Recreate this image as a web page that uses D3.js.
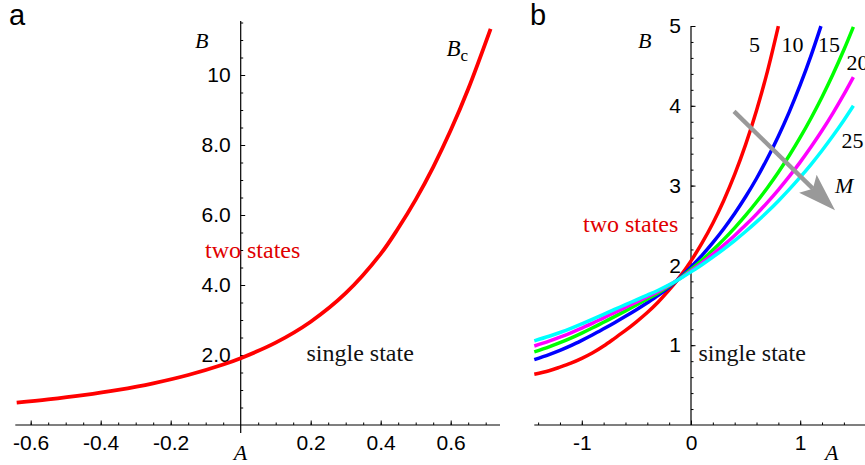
<!DOCTYPE html>
<html>
<head>
<meta charset="utf-8">
<script src="https://cdn.jsdelivr.net/npm/d3@7"></script>
<style>
  html, body { margin: 0; padding: 0; background: #fff; }
  svg { display: block; }
  .tick text { font-family: "Liberation Sans", Arial, sans-serif; font-size: 21px; fill: #000; }
  .tick line { stroke: #000; stroke-width: 1; }
</style>
</head>
<body>
<svg id="chart" width="865" height="465"></svg>
<script>
// ---- Panel a: critical boundary B_c as a function of A ----
const bcA = [-0.64, -0.55, -0.45, -0.35, -0.25, -0.15, -0.05, 0, 0.1, 0.2, 0.3, 0.4, 0.45, 0.5, 0.55, 0.6, 0.65, 0.714];
const bcB = [0.640, 0.730, 0.852, 1.003, 1.192, 1.429, 1.730, 1.910, 2.353, 2.951, 3.765, 4.889, 5.62, 6.44, 7.37, 8.42, 9.60, 11.32];

const xTicksA = [-0.6, -0.4, -0.2, 0.2, 0.4, 0.6];
const xTickLabelsA = ["-0.6", "-0.4", "-0.2", "0.2", "0.4", "0.6"];
const yTicksA = [2, 4, 6, 8, 10];
const yTickLabelsA = ["2.0", "4.0", "6.0", "8.0", "10"];

// ---- Panel b: boundary for several M ----
const mValues = [5, 10, 15, 20, 25];
const m5A  = [-1.435, -1.3, -1.2, -1.1, -1.0, -0.9, -0.8, -0.7, -0.6, -0.5, -0.4, -0.3, -0.2, -0.1, 0, 0.1, 0.2, 0.3, 0.4, 0.5, 0.6, 0.7, 0.8];
const m5B  = [0.637, 0.680, 0.725, 0.775, 0.835, 0.905, 0.990, 1.086, 1.185, 1.293, 1.410, 1.542, 1.692, 1.863, 2.057, 2.278, 2.528, 2.814, 3.140, 3.513, 3.941, 4.432, 4.998];
const m10A = [-1.435, -1.3, -1.2, -1.1, -1.0, -0.9, -0.8, -0.7, -0.6, -0.5, -0.4, -0.3, -0.2, -0.1, 0, 0.1, 0.2, 0.3, 0.4, 0.5, 0.6, 0.7, 0.8, 0.9, 1.0, 1.1, 1.19];
const m10B = [0.820, 0.883, 0.935, 0.994, 1.060, 1.130, 1.205, 1.282, 1.362, 1.445, 1.532, 1.624, 1.728, 1.847, 1.981, 2.126, 2.286, 2.460, 2.651, 2.860, 3.089, 3.342, 3.619, 3.924, 4.261, 4.632, 4.998];
const m15A = [-1.435, -1.3, -1.2, -1.1, -1.0, -0.9, -0.8, -0.7, -0.6, -0.5, -0.4, -0.3, -0.2, -0.1, 0, 0.1, 0.2, 0.3, 0.4, 0.5, 0.6, 0.7, 0.8, 0.9, 1.0, 1.1, 1.2, 1.3, 1.4, 1.487];
const m15B = [0.917, 0.979, 1.031, 1.088, 1.151, 1.218, 1.288, 1.358, 1.430, 1.503, 1.578, 1.655, 1.742, 1.841, 1.949, 2.066, 2.192, 2.326, 2.471, 2.626, 2.794, 2.974, 3.168, 3.377, 3.603, 3.847, 4.110, 4.394, 4.702, 4.990];
const m20A = [-1.435, -1.3, -1.2, -1.1, -1.0, -0.9, -0.8, -0.7, -0.6, -0.5, -0.4, -0.3, -0.2, -0.1, 0, 0.1, 0.2, 0.3, 0.4, 0.5, 0.6, 0.7, 0.8, 0.9, 1.0, 1.1, 1.2, 1.3, 1.4, 1.487];
const m20B = [0.990, 1.050, 1.100, 1.154, 1.215, 1.277, 1.343, 1.408, 1.474, 1.540, 1.607, 1.675, 1.751, 1.837, 1.932, 2.032, 2.140, 2.254, 2.375, 2.505, 2.643, 2.790, 2.947, 3.115, 3.294, 3.486, 3.690, 3.909, 4.143, 4.360];
const m25A = [-1.435, -1.3, -1.2, -1.1, -1.0, -0.9, -0.8, -0.7, -0.6, -0.5, -0.4, -0.3, -0.2, -0.1, 0, 0.1, 0.2, 0.3, 0.4, 0.5, 0.6, 0.7, 0.8, 0.9, 1.0, 1.1, 1.2, 1.3, 1.4, 1.487];
const m25B = [1.055, 1.112, 1.159, 1.210, 1.267, 1.326, 1.387, 1.448, 1.508, 1.569, 1.628, 1.689, 1.757, 1.834, 1.919, 2.009, 2.104, 2.205, 2.311, 2.425, 2.545, 2.672, 2.808, 2.952, 3.105, 3.267, 3.440, 3.624, 3.819, 4.000];
const mColors = ["#ff0000", "#0000ff", "#00ff00", "#ff00ff", "#00ffff"];

const xTicksB = [-1, 0, 1];
const xTickLabelsB = ["-1", "0", "1"];
const yTicksB = [1, 2, 3, 4, 5];
const yTickLabelsB = ["1", "2", "3", "4", "5"];

// Direction of increasing M (arrow start and tip, in A/B units)
const arrowFrom = [0.394, 3.93];
const arrowTo = [1.319, 2.69];

const svg = d3.select("#chart");

// Scales
const xa = d3.scaleLinear().domain([-0.6, 0.6]).range([30.7, 450.7]);
const ya = d3.scaleLinear().domain([0, 10]).range([425, 75]);
const xb = d3.scaleLinear().domain([-1, 1]).range([581.8, 800.2]);
const yb = d3.scaleLinear().domain([0, 5]).range([425, 26]);

function range(a, b, step) {
  const out = [];
  const n = Math.round((b - a) / step);
  for (let i = 0; i <= n; i++) out.push(+(a + i * step).toFixed(4));
  return out;
}

function drawAxes(x, y, opt) {
  const g = svg.append("g");
  const y0 = y(0), x0 = x(0);
  // minor ticks
  g.append("g").attr("transform", `translate(0,${y0})`)
    .call(d3.axisBottom(x).tickValues(opt.xMinor).tickFormat("").tickSizeInner(-2.5).tickSizeOuter(0))
    .call(s => s.select(".domain").remove());
  g.append("g").attr("transform", `translate(${x0},0)`)
    .call(d3.axisLeft(y).tickValues(opt.yMinor).tickFormat("").tickSizeInner(-2.5).tickSizeOuter(0))
    .call(s => s.select(".domain").remove());
  // major ticks with labels
  g.append("g").attr("transform", `translate(0,${y0})`)
    .call(d3.axisBottom(x).tickValues(opt.xTicks)
      .tickFormat((d, i) => opt.xLabels[i]).tickSizeInner(-4.5).tickSizeOuter(0).tickPadding(10))
    .call(s => s.select(".domain").remove());
  g.append("g").attr("transform", `translate(${x0},0)`)
    .call(d3.axisLeft(y).tickValues(opt.yTicks)
      .tickFormat((d, i) => opt.yLabels[i]).tickSizeInner(-4.5).tickSizeOuter(0).tickPadding(10))
    .call(s => s.select(".domain").remove());
  // axis lines
  g.append("line").attr("x1", x(opt.xExt[0])).attr("x2", x(opt.xExt[1]))
    .attr("y1", y0).attr("y2", y0).attr("stroke", "#000").attr("stroke-width", 1.2);
  g.append("line").attr("x1", x0).attr("x2", x0)
    .attr("y1", y(opt.yExt[0])).attr("y2", y(opt.yExt[1])).attr("stroke", "#000").attr("stroke-width", 1.2);
  return g;
}

// ---------- Panel a ----------
drawAxes(xa, ya, {
  xTicks: xTicksA, xLabels: xTickLabelsA,
  yTicks: yTicksA, yLabels: yTickLabelsA,
  xMinor: range(-0.6, 0.7, 0.05).filter(v => Math.abs(v) > 1e-6),
  yMinor: range(0.5, 11.5, 0.5),
  xExt: [-0.644, 0.741], yExt: [-0.23, 11.54]
});

const lineA = d3.line().x(d => xa(d[0])).y(d => ya(d[1])).curve(d3.curveCatmullRom.alpha(0.5));
svg.append("path")
  .datum(bcA.map((a, i) => [a, bcB[i]]))
  .attr("d", lineA)
  .attr("fill", "none").attr("stroke", "#ff0000").attr("stroke-width", 3.8);

// ---------- Panel b ----------
drawAxes(xb, yb, {
  xTicks: xTicksB, xLabels: xTickLabelsB,
  yTicks: yTicksB, yLabels: yTickLabelsB,
  xMinor: range(-1.4, 1.6, 0.2).filter(v => Math.abs(v) > 1e-6),
  yMinor: range(0.2, 5, 0.2),
  xExt: [-1.435, 1.7], yExt: [0, 5]
});

const seriesA = [m5A, m10A, m15A, m20A, m25A];
const seriesB = [m5B, m10B, m15B, m20B, m25B];
const lineB = d3.line().x(d => xb(d[0])).y(d => yb(d[1])).curve(d3.curveCatmullRom.alpha(0.5));
mValues.forEach((m, k) => {
  svg.append("path")
    .datum(seriesA[k].map((a, i) => [a, seriesB[k][i]]))
    .attr("d", lineB)
    .attr("fill", "none").attr("stroke", mColors[k]).attr("stroke-width", 3.5);
});

// Gray arrow showing the direction of increasing M
(function () {
  const x1 = xb(arrowFrom[0]), y1 = yb(arrowFrom[1]);
  const x2 = xb(arrowTo[0]), y2 = yb(arrowTo[1]);
  const ang = Math.atan2(y2 - y1, x2 - x1);
  const headLen = 38, halfW = 12.5, notch = 7;
  const ux = Math.cos(ang), uy = Math.sin(ang), px = -uy, py = ux;
  const bx = x2 - ux * headLen, by = y2 - uy * headLen;
  svg.append("line")
    .attr("x1", x1).attr("y1", y1)
    .attr("x2", bx + ux * notch).attr("y2", by + uy * notch)
    .attr("stroke", "#999").attr("stroke-width", 4.4);
  const pts = [
    [x2, y2],
    [bx + px * halfW, by + py * halfW],
    [bx + ux * notch, by + uy * notch],
    [bx - px * halfW, by - py * halfW]
  ];
  svg.append("path").attr("d", "M" + pts.map(p => p.join(",")).join("L") + "Z").attr("fill", "#999");
})();

// ---------- Text ----------
function txt(x, y, s, size, opts = {}) {
  const t = svg.append("text").attr("x", x).attr("y", y).text(s)
    .attr("font-size", size)
    .attr("font-family", opts.sans ? '"Liberation Sans", Arial, sans-serif' : '"Liberation Serif", "Times New Roman", serif')
    .attr("fill", opts.fill || "#000");
  if (opts.italic) t.attr("font-style", "italic");
  if (opts.anchor) t.attr("text-anchor", opts.anchor);
  return t;
}

// panel letters
txt(9, 25, "a", 29, { sans: true });
txt(530, 25, "b", 29, { sans: true });

// panel a labels
txt(195, 48, "B", 22, { italic: true });
txt(240.5, 460, "A", 22, { italic: true, anchor: "middle" });
const bc = txt(446.5, 56, "B", 23, { italic: true });
bc.append("tspan").attr("font-style", "normal").attr("font-size", 17).attr("dy", 5).text("c");
txt(205, 258, "two states", 24, { fill: "#e00000" });
txt(306.5, 361, "single state", 24, { fill: "#111" });

// panel b labels
txt(638, 48, "B", 22, { italic: true });
txt(825, 460, "A", 22, { italic: true });
txt(583, 231.5, "two states", 24, { fill: "#e00000" });
txt(698.5, 361, "single state", 24, { fill: "#111" });
const mLabelPos = [[749, 51.5], [781.5, 51.5], [818, 51.5], [846.5, 70], [841.5, 148]];
mValues.forEach((m, k) => txt(mLabelPos[k][0], mLabelPos[k][1], String(m), 22));
txt(835, 193, "M", 22, { italic: true });
</script>
</body>
</html>
